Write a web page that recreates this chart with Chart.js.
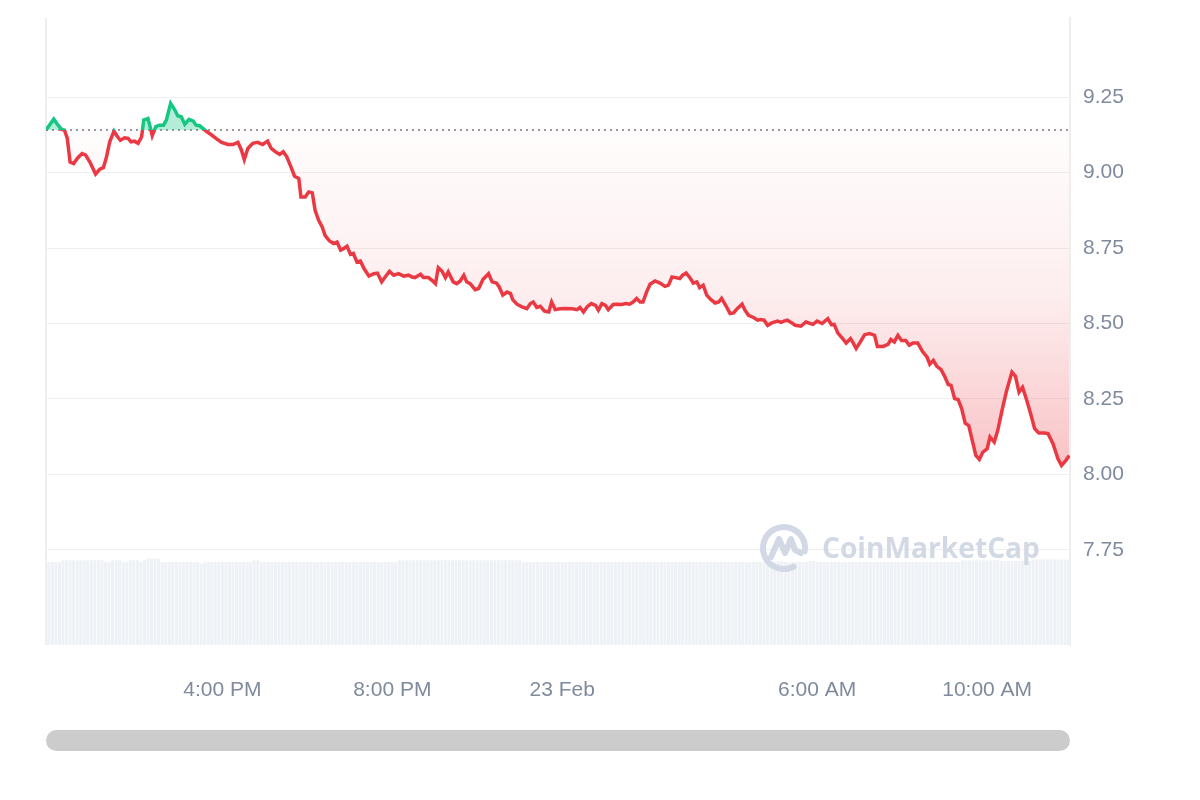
<!DOCTYPE html>
<html>
<head>
<meta charset="utf-8">
<script src="https://cdn.jsdelivr.net/npm/chart.js@4.4.1/dist/chart.umd.min.js"></script>
<style>
  html, body { margin: 0; padding: 0; background: #fff; }
  #wrap { width: 1200px; height: 800px; }
</style>
</head>
<body>
<div id="wrap"><canvas id="chart"></canvas></div>
<script>
// price line: minutes since midnight 22 Feb
const minutes = [
  711, 722, 728, 733, 737, 741, 745, 750, 756, 762, 767, 773, 781, 787, 792, 796, 801, 807, 811, 816,
  822, 827, 831, 836, 841, 846, 849, 855, 858, 861, 866, 871, 877, 881, 887, 893, 897, 902, 907, 913,
  919, 923, 928, 933, 937, 944, 951, 959, 968, 975, 982, 987, 991, 996, 1003, 1010, 1017, 1024, 1029, 1036,
  1041, 1046, 1051, 1057, 1062, 1068, 1071, 1077, 1082, 1087, 1091, 1096, 1101, 1105, 1111, 1117, 1122, 1127, 1131, 1136,
  1141, 1145, 1150, 1155, 1160, 1167, 1174, 1179, 1185, 1190, 1196, 1202, 1209, 1216, 1223, 1228, 1232, 1240, 1244, 1251,
  1257, 1261, 1265, 1270, 1275, 1279, 1286, 1291, 1296, 1301, 1305, 1310, 1317, 1322, 1328, 1336, 1341, 1347, 1351, 1356,
  1362, 1367, 1370, 1376, 1383, 1390, 1395, 1399, 1404, 1409, 1415, 1421, 1425, 1430, 1437, 1444, 1454, 1461, 1465, 1470,
  1475, 1481, 1487, 1491, 1496, 1501, 1505, 1512, 1517, 1524, 1530, 1535, 1540, 1545, 1550, 1554, 1559, 1564, 1571, 1578,
  1585, 1590, 1595, 1600, 1606, 1610, 1615, 1621, 1625, 1630, 1634, 1639, 1644, 1650, 1656, 1661, 1665, 1672, 1677, 1682,
  1687, 1694, 1698, 1703, 1710, 1716, 1720, 1725, 1730, 1736, 1744, 1749, 1753, 1758, 1764, 1769, 1777, 1784, 1794, 1800,
  1807, 1815, 1820, 1824, 1829, 1836, 1841, 1847, 1850, 1855, 1861, 1867, 1874, 1881, 1885, 1893, 1900, 1904, 1909, 1914,
  1919, 1925, 1930, 1935, 1942, 1949, 1955, 1959, 1964, 1969, 1975, 1980, 1985, 1989, 1994, 1999, 2004, 2009, 2014, 2019,
  2024, 2029, 2034, 2040, 2044, 2050, 2055, 2061, 2067, 2075, 2080, 2085, 2090, 2096, 2102, 2107, 2113, 2121, 2126, 2133,
  2140, 2145, 2151, 2156
];
const prices = [
  9.141, 9.177, 9.157, 9.143, 9.141, 9.114, 9.035, 9.030, 9.049, 9.063, 9.058, 9.035, 8.995, 9.011, 9.016, 9.047, 9.102, 9.137, 9.122, 9.107,
  9.115, 9.113, 9.102, 9.104, 9.097, 9.118, 9.174, 9.179, 9.152, 9.122, 9.152, 9.157, 9.157, 9.174, 9.229, 9.207, 9.188, 9.185, 9.160, 9.176,
  9.170, 9.157, 9.155, 9.146, 9.137, 9.126, 9.113, 9.100, 9.093, 9.093, 9.100, 9.074, 9.043, 9.080, 9.097, 9.100, 9.093, 9.104, 9.080, 9.067,
  9.060, 9.069, 9.052, 9.018, 8.988, 8.980, 8.919, 8.919, 8.936, 8.933, 8.875, 8.842, 8.820, 8.792, 8.774, 8.765, 8.770, 8.743, 8.748, 8.756,
  8.729, 8.732, 8.704, 8.707, 8.682, 8.657, 8.665, 8.667, 8.638, 8.654, 8.673, 8.660, 8.665, 8.657, 8.660, 8.654, 8.652, 8.663, 8.652, 8.652,
  8.641, 8.632, 8.685, 8.674, 8.652, 8.671, 8.638, 8.632, 8.641, 8.660, 8.638, 8.632, 8.612, 8.616, 8.646, 8.665, 8.638, 8.634, 8.621, 8.594,
  8.604, 8.599, 8.579, 8.564, 8.555, 8.549, 8.566, 8.571, 8.553, 8.557, 8.541, 8.538, 8.571, 8.546, 8.549, 8.550, 8.549, 8.546, 8.553, 8.538,
  8.555, 8.566, 8.560, 8.544, 8.566, 8.560, 8.546, 8.563, 8.564, 8.563, 8.566, 8.564, 8.571, 8.583, 8.571, 8.571, 8.604, 8.630, 8.641, 8.634,
  8.623, 8.627, 8.654, 8.652, 8.649, 8.660, 8.667, 8.649, 8.634, 8.638, 8.619, 8.627, 8.594, 8.579, 8.568, 8.571, 8.583, 8.555, 8.533, 8.535,
  8.549, 8.564, 8.544, 8.527, 8.520, 8.511, 8.513, 8.511, 8.494, 8.502, 8.508, 8.504, 8.508, 8.511, 8.502, 8.494, 8.491, 8.505, 8.497, 8.508,
  8.500, 8.516, 8.496, 8.497, 8.469, 8.450, 8.435, 8.450, 8.439, 8.417, 8.439, 8.463, 8.467, 8.461, 8.424, 8.424, 8.431, 8.447, 8.439, 8.461,
  8.444, 8.444, 8.428, 8.435, 8.435, 8.406, 8.389, 8.365, 8.378, 8.358, 8.347, 8.325, 8.298, 8.295, 8.251, 8.248, 8.218, 8.170, 8.162, 8.113,
  8.063, 8.050, 8.074, 8.085, 8.124, 8.107, 8.146, 8.212, 8.273, 8.339, 8.325, 8.273, 8.289, 8.245, 8.196, 8.152, 8.137, 8.137, 8.135, 8.102,
  8.052, 8.030, 8.046, 8.063
];
const openPrice = 9.141; // dotted reference line

// volume bars, one every 5 minutes from 11:55
const volStart = 715;
const volStep = 5;
const volumes = [
  98, 98, 98, 98, 100, 100, 100, 100, 100, 100, 100, 100, 100, 100, 100, 100, 98, 98, 100, 100,
  100, 98, 98, 100, 100, 100, 98, 100, 102, 102, 102, 102, 98, 98, 98, 98, 98, 98, 98, 98,
  98, 98, 98, 96, 98, 98, 98, 98, 98, 98, 98, 98, 98, 98, 98, 98, 98, 98, 100, 100,
  98, 98, 98, 98, 98, 98, 98, 98, 98, 98, 98, 98, 98, 98, 98, 98, 98, 98, 98, 98,
  98, 98, 98, 98, 98, 98, 98, 98, 98, 98, 98, 98, 98, 98, 98, 98, 98, 98, 98, 100,
  100, 100, 100, 100, 100, 100, 100, 100, 100, 100, 100, 100, 100, 100, 100, 100, 100, 100, 100, 100,
  100, 100, 100, 100, 100, 100, 100, 100, 100, 100, 100, 100, 100, 100, 98, 98, 98, 98, 98, 98,
  98, 98, 98, 98, 98, 98, 98, 98, 98, 98, 98, 98, 98, 98, 98, 98, 98, 98, 98, 98,
  98, 98, 98, 98, 98, 98, 98, 98, 98, 98, 98, 98, 98, 98, 98, 98, 98, 98, 98, 98,
  98, 98, 98, 98, 98, 98, 98, 98, 98, 98, 98, 98, 98, 98, 98, 98, 98, 98, 98, 98,
  98, 98, 98, 98, 98, 98, 99, 99, 98, 98, 98, 98, 98, 98, 98, 99, 99, 98, 98, 98,
  98, 98, 98, 98, 98, 98, 98, 98, 98, 98, 98, 98, 98, 98, 98, 98, 98, 98, 98, 98,
  98, 98, 98, 98, 98, 98, 98, 98, 98, 98, 98, 98, 98, 98, 98, 98, 98, 98, 100, 100,
  100, 100, 100, 100, 100, 100, 100, 100, 100, 99, 99, 99, 99, 99, 99, 99, 99, 99, 101, 101,
  101, 101, 101, 101, 101, 101, 101, 101, 101
];

const tickMinutes = [960, 1200, 1440, 1800, 2040];
const tickLabels = ['4:00 PM', '8:00 PM', '23 Feb', '6:00 AM', '10:00 AM'];
const priceTicks = [7.75, 8.0, 8.25, 8.5, 8.75, 9.0, 9.25];

const RED = '#ea3943';
const GREEN = '#16c784';
const LABEL = '#808a9d';
const FONT = "'Liberation Sans', Arial, sans-serif";

const pricePoints = minutes.map((m, i) => ({ x: m, y: prices[i] }));
const volumePoints = volumes.map((v, i) => ({ x: volStart + i * volStep, y: v }));

function lineColor(ctx) {
  const { chart } = ctx;
  const area = chart.chartArea;
  if (!area) return RED;
  const yb = chart.scales.y.getPixelForValue(openPrice);
  const s = Math.min(1, Math.max(0, (yb - area.top) / (area.bottom - area.top)));
  const g = chart.ctx.createLinearGradient(0, area.top, 0, area.bottom);
  g.addColorStop(0, GREEN);
  g.addColorStop(s, GREEN);
  g.addColorStop(s, RED);
  g.addColorStop(1, RED);
  return g;
}

function redFill(ctx) {
  const { chart } = ctx;
  const area = chart.chartArea;
  if (!area) return 'rgba(234,57,67,0.1)';
  const yb = chart.scales.y.getPixelForValue(openPrice);
  const ylow = chart.scales.y.getPixelForValue(Math.min(...prices));
  const g = chart.ctx.createLinearGradient(0, yb, 0, ylow);
  g.addColorStop(0, 'rgba(234,57,67,0.01)');
  g.addColorStop(0.5, 'rgba(234,57,67,0.09)');
  g.addColorStop(1, 'rgba(234,57,67,0.30)');
  return g;
}

const decor = {
  id: 'decor',
  beforeDatasetsDraw(chart) {
    const { ctx, chartArea } = chart;
    ctx.save();
    ctx.strokeStyle = '#eeeeee';
    ctx.lineWidth = 2;
    ctx.beginPath();
    ctx.moveTo(chartArea.left, chartArea.top);
    ctx.lineTo(chartArea.left, chartArea.bottom);
    ctx.stroke();
    ctx.restore();
  },
  afterDatasetsDraw(chart) {
    const { ctx } = chart;
    ctx.save();
    // watermark logo
    const cx = 784, cy = 548, r = 21;
    ctx.strokeStyle = '#d2d8e4';
    ctx.lineWidth = 6;
    ctx.lineCap = 'round';
    ctx.lineJoin = 'round';
    ctx.beginPath();
    ctx.arc(cx, cy, r, 0.35 * Math.PI, 2.05 * Math.PI);
    ctx.stroke();
    ctx.beginPath();
    ctx.moveTo(cx - 13, cy + 9);
    ctx.lineTo(cx - 5, cy - 9);
    ctx.lineTo(cx + 1, cy + 5);
    ctx.lineTo(cx + 7, cy - 9);
    ctx.lineTo(cx + 11, cy + 2);
    ctx.lineTo(cx + 17, cy + 5);
    ctx.stroke();
    // watermark text
    const txt = 'CoinMarketCap';
    ctx.font = "bold 100px 'Open Sans', Arial, sans-serif";
    const w = ctx.measureText(txt).width;
    const size = 100 * 218 / w;
    ctx.font = `bold ${size}px 'Open Sans', Arial, sans-serif`;
    ctx.fillStyle = '#d2d8e4';
    ctx.textBaseline = 'alphabetic';
    ctx.fillText(txt, 822, 558);
    ctx.restore();
  },
  afterDraw(chart) {
    const { ctx, chartArea } = chart;
    ctx.save();
    ctx.fillStyle = '#cccccc';
    ctx.beginPath();
    ctx.roundRect(chartArea.left, 730, chartArea.right - chartArea.left, 21, 10.5);
    ctx.fill();
    ctx.restore();
  }
};

new Chart(document.getElementById('chart'), {
  type: 'line',
  data: {
    datasets: [
      {
        label: 'Price',
        data: pricePoints,
        yAxisID: 'y',
        borderColor: lineColor,
        backgroundColor: redFill,
        borderWidth: 3.5,
        pointRadius: 0,
        tension: 0,
        fill: { value: openPrice, above: 'rgba(22,199,132,0.32)' },
        order: 0
      },
      {
        label: 'Open',
        data: [{ x: 711, y: openPrice }, { x: 2157, y: openPrice }],
        yAxisID: 'y',
        borderColor: '#999999',
        borderWidth: 2,
        borderDash: [2, 4],
        pointRadius: 0,
        fill: false,
        order: 1
      },
      {
        type: 'bar',
        label: 'Volume',
        data: volumePoints,
        yAxisID: 'yv',
        backgroundColor: '#eef1f5',
        barPercentage: 0.85,
        categoryPercentage: 1,
        order: 2
      }
    ]
  },
  options: {
    responsive: true,
    maintainAspectRatio: false,
    animation: false,
    layout: { padding: { left: 46, top: 18, right: 0, bottom: 0 } },
    plugins: { legend: { display: false }, tooltip: { enabled: false } },
    scales: {
      x: {
        type: 'linear',
        min: 711,
        max: 2157,
        offset: false,
        grid: { display: false, drawTicks: false },
        border: { display: false },
        afterBuildTicks: (scale) => { scale.ticks = tickMinutes.map(v => ({ value: v })); },
        afterFit: (scale) => {
          scale.height = 155;
          scale.paddingLeft = 0;
          scale.paddingRight = 0;
        },
        ticks: {
          padding: 33,
          maxRotation: 0,
          autoSkip: false,
          color: LABEL,
          font: { family: FONT, size: 21 },
          callback: (v) => tickLabels[tickMinutes.indexOf(v)]
        }
      },
      y: {
        position: 'right',
        min: 7.435,
        max: 9.512,
        grid: { color: '#efefef', lineWidth: 1, drawTicks: false },
        border: { display: true, color: '#eeeeee', width: 2 },
        afterBuildTicks: (scale) => { scale.ticks = priceTicks.map(v => ({ value: v })); },
        afterFit: (scale) => {
          scale.width = 130;
          scale.paddingTop = 0;
          scale.paddingBottom = 0;
        },
        ticks: {
          padding: 13,
          color: LABEL,
          font: { family: FONT, size: 21 },
          callback: (v) => v.toFixed(2)
        }
      },
      yv: {
        display: false,
        min: 0,
        max: 740
      }
    }
  },
  plugins: [decor]
});
</script>
</body>
</html>
